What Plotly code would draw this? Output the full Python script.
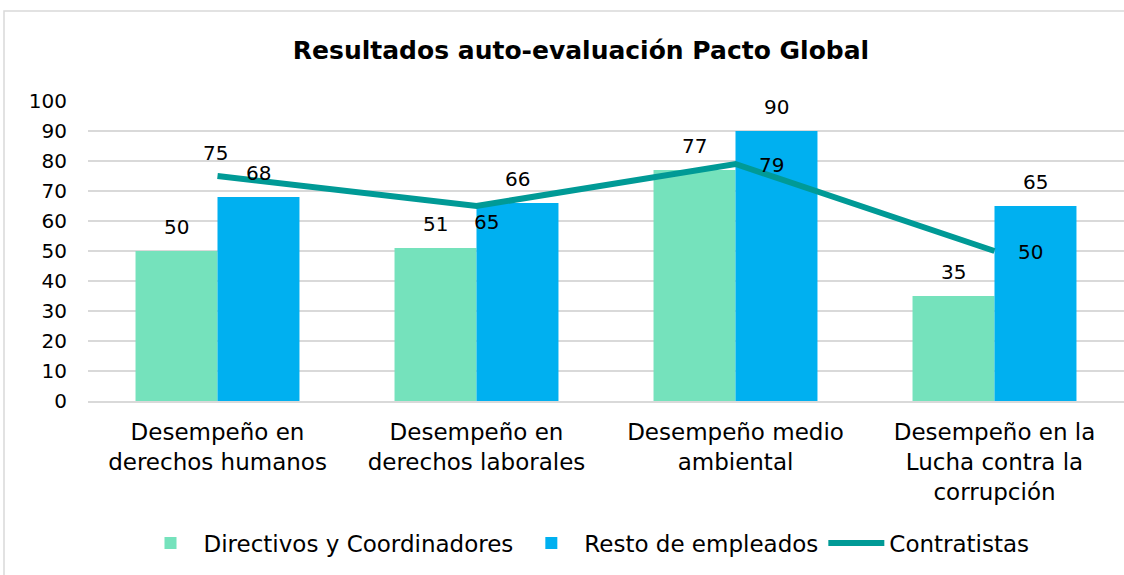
import plotly.graph_objects as go

categories = ["Desempeño en<br>derechos humanos", "Desempeño en<br>derechos laborales",
              "Desempeño medio<br>ambiental", "Desempeño en la<br>Lucha contra la<br>corrupción"]
directivos = [50, 51, 77, 35]
resto = [68, 66, 90, 65]
contratistas = [75, 65, 79, 50]
yticks = [0, 10, 20, 30, 40, 50, 60, 70, 80, 90, 100]

GREEN = "#75E2BC"
BLUE = "#00B0F0"
TEAL = "#009A96"
FONT = "DejaVu Sans"

fig = go.Figure()
fig.add_trace(go.Bar(name="Directivos y Coordinadores", x=categories, y=directivos,
                     marker=dict(color=GREEN, line=dict(width=0))))
fig.add_trace(go.Bar(name="Resto de empleados", x=categories, y=resto,
                     marker=dict(color=BLUE, line=dict(width=0))))
fig.add_trace(go.Scatter(name="Contratistas", x=categories, y=contratistas, mode="lines",
                         line=dict(color=TEAL, width=6)))

annotations = []
# bar labels
for cat, v in zip(categories, directivos):
    annotations.append(dict(x=cat, y=v, xref="x", yref="y", text=str(v), showarrow=False,
                            xshift=-41, yanchor="bottom", yshift=10,
                            font=dict(family=FONT, size=20, color="#000000")))
for cat, v in zip(categories, resto):
    annotations.append(dict(x=cat, y=v, xref="x", yref="y", text=str(v), showarrow=False,
                            xshift=41, yanchor="bottom", yshift=10,
                            font=dict(family=FONT, size=20, color="#000000")))
# line labels (offsets are label placement style)
line_offsets = [(-2, 23), (10, -16), (36, -1), (36, -1)]
for cat, v, (dx, dy) in zip(categories, contratistas, line_offsets):
    annotations.append(dict(x=cat, y=v, xref="x", yref="y", text=str(v), showarrow=False,
                            xshift=dx, yshift=dy, yanchor="middle",
                            font=dict(family=FONT, size=20, color="#000000")))

fig.update_layout(
    width=1124, height=575,
    margin=dict(l=88, r=0, t=101, b=174),
    paper_bgcolor="white", plot_bgcolor="white",
    font=dict(family=FONT, color="#000000"),
    barmode="group", bargap=0.367, bargroupgap=0,
    title=dict(text="<b>Resultados auto-evaluación Pacto Global</b>",
               x=581 / 1124, xanchor="center", xref="container",
               y=1 - 50 / 575, yanchor="middle", yref="container",
               font=dict(family=FONT, size=25, color="#000000")),
    showlegend=True,
    legend=dict(orientation="h", x=586 / 1124, xanchor="center", xref="container",
                y=1 - 543 / 575, yanchor="middle", yref="container",
                font=dict(family=FONT, size=23, color="#000000"),
                traceorder="normal", itemwidth=56),
    annotations=annotations,
    shapes=[dict(type="rect", xref="paper", yref="paper",
                 x0=(4 - 88) / 1036, x1=(1140 - 88) / 1036,
                 y0=(401 - 600) / 300, y1=(401 - 11) / 300,
                 line=dict(color="#D9D9D9", width=1.5), fillcolor="rgba(0,0,0,0)", layer="below")],
)
fig.update_yaxes(range=[0, 100], tickvals=yticks, showgrid=True, gridcolor="#D9D9D9", gridwidth=1.5,
                 zeroline=False, showline=False, ticks="", ticklabelstandoff=20,
                 tickfont=dict(family=FONT, size=20, color="#000000"))
fig.update_xaxes(showline=True, linecolor="#D9D9D9", linewidth=1.5, ticks="", ticklabelstandoff=10,
                 tickfont=dict(family=FONT, size=23, color="#000000"))

fig.write_html("out.html")
